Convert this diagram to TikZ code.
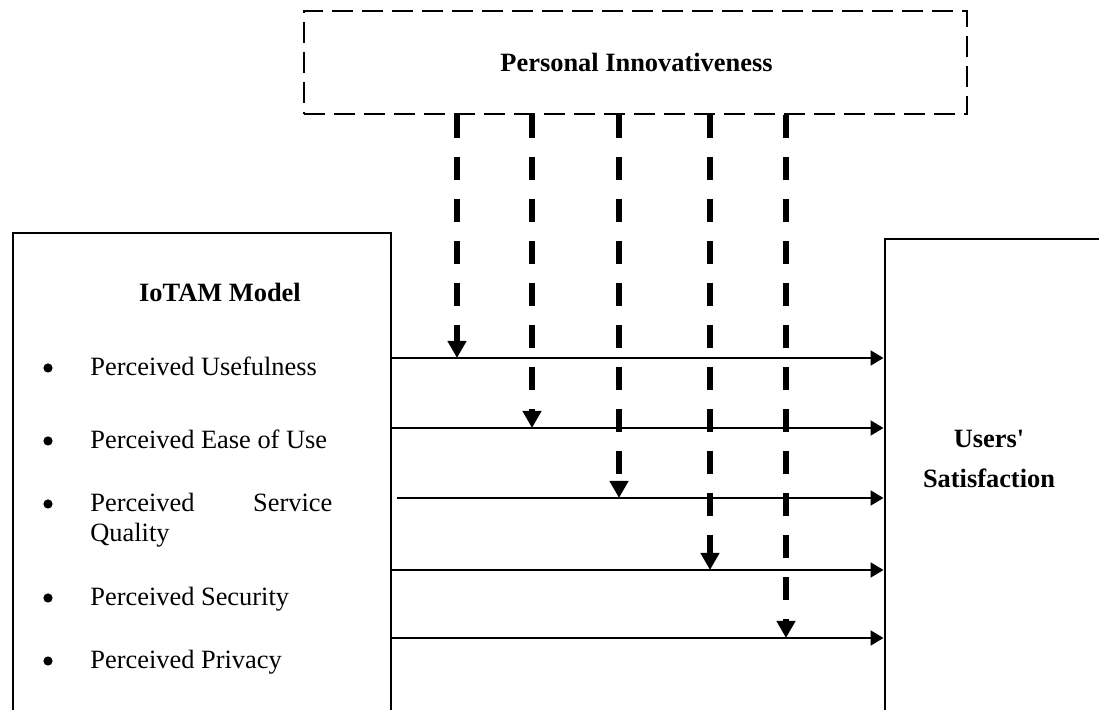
\documentclass[tikz,border=0pt]{standalone}
\usepackage{fontspec}
\setmainfont{Liberation Serif}
\usepackage{tikz}
\usetikzlibrary{arrows.meta}

\begin{document}
\begin{tikzpicture}[
    x=0.5pt, y=-0.5pt,
    font=\fontsize{13.2}{15}\selectfont,
    box/.style={rectangle, draw, line width=1pt, anchor=north west, inner sep=0pt},
    dashbox/.style={rectangle, draw, line width=1pt, dash pattern=on 10.5pt off 4.5pt, anchor=north west, inner sep=0pt},
    title/.style={font=\fontsize{13.2}{20}\selectfont\bfseries, inner sep=0pt},
    item/.style={anchor=base west, inner sep=0pt, text width=121pt, align=justify},
    dot/.style={circle, fill, inner sep=0pt, minimum size=4.6pt},
    arrow/.style={-{Triangle[length=6.5pt, width=7.5pt]}, line width=1pt},
    modarrow/.style={-{Triangle[length=8.5pt, width=9pt]}, line width=3pt, dash pattern=on 11.5pt off 9.5pt}
]
    \useasboundingbox (0,0) rectangle (1099,710);
    \clip (0,0) rectangle (1099,710);

    % moderator on top
    \node[dashbox, minimum width=331.5pt, minimum height=51.5pt] (innov) at (303,10) {};
    \node[title, anchor=base] (innovlabel) at (636.5,72) {Personal Innovativeness};

    % the two blocks run off the bottom edge
    \node[box, minimum width=189.2pt, minimum height=250pt] (iotam) at (11.7,231.7) {};
    \node[box, minimum width=120pt, minimum height=250pt] (users) at (883.5,238.5) {};

    \node[title, anchor=base] (iotamlabel) at (220,302) {IoTAM Model};
    \node[title, align=center, anchor=base] (userslabel) at (989,488) {Users\textquotesingle\\Satisfaction};

    \foreach \txt/\yb [count=\i] in {Perceived Usefulness/376, Perceived Ease of Use/449,
        {Perceived Service\linebreak Quality}/512, Perceived Security/606, Perceived Privacy/669} {
        \node[item] (item\i) at (90,\yb) {\txt};
        \node[dot] (dot\i) at ([shift={(-21pt,4pt)}]item\i.base west) {};
    }

    \foreach \xv/\yv/\gap [count=\i] in {457/358/0, 532/428/0, 619/498/2.5, 710/570/0, 786/638/0} {
        \coordinate (p\i) at (\xv,\yv);
        \draw[arrow] ([xshift=\gap pt]iotam.east |- p\i) -- (users.west |- p\i);
        \draw[modarrow] (innov.south -| p\i) -- (p\i);
    }
\end{tikzpicture}
\end{document}
